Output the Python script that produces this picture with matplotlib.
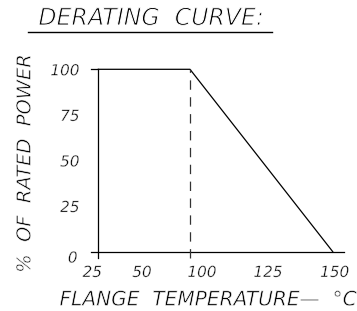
import numpy as np
import matplotlib
matplotlib.use("Agg")
import matplotlib.pyplot as plt
import matplotlib.patheffects as pe
from matplotlib.transforms import ScaledTranslation

# derating curve data
temp = [25, 100, 150]
power = [100, 100, 0]

x_ticks = [25, 50, 100, 125, 150]
y_ticks = [0, 25, 50, 75, 100]

# the drawing's temperature axis is not linear, map it piecewise
knots_t = [20, 25, 50, 100, 125, 150, 155]
knots_px = [90.7, 98.3, 142, 190, 265, 332.7, 344]


def fwd(x):
    return np.interp(x, knots_t, knots_px)


def inv(p):
    return np.interp(p, knots_px, knots_t)


W, H = 357, 311
fig = plt.figure(figsize=(W / 100, H / 100), dpi=100)
ax = fig.add_axes([90.7 / W, (H - 258) / H, (344 - 90.7) / W, (258 - 69.3) / H])
ax.set_xscale("function", functions=(fwd, inv))
ax.set_xlim(20, 155)
ax.set_ylim(-3.5, 100)

for s in ax.spines.values():
    s.set_visible(False)


# thin the glyphs a bit with a white outline, CAD lettering is hairline
def fnt(w):
    return dict(family="DejaVu Sans", style="italic", color="black",
                path_effects=[pe.Stroke(linewidth=w, foreground="white")])


lw = 0.9
ax.plot(temp, power, color="black", lw=lw, clip_on=False)
ax.plot([20, 25], [100, 100], color="black", lw=lw, clip_on=False)
ax.plot([20, 155], [0, 0], color="black", lw=lw, clip_on=False)
ax.plot([25, 25], [-3.5, 100], color="black", lw=lw, clip_on=False)
ax.plot([100, 100], [-3.5, 100], color="#333333", lw=lw, ls=(0, (7.5, 6)), clip_on=False)

ax.set_xticks(x_ticks)
ax.set_xticklabels([str(v) for v in x_ticks], fontsize=11, **fnt(0.3))
ax.set_yticks(y_ticks)
ax.set_yticklabels([str(v) for v in y_ticks], fontsize=11, **fnt(0.3))
ax.tick_params(length=0)
ax.tick_params(axis="x", pad=5)
ax.tick_params(axis="y", pad=8)

x_shift = {25: -6, 100: 12, 125: 3, 150: 2}
for lab, v in zip(ax.get_xticklabels(), x_ticks):
    dx = x_shift.get(v, 0)
    lab.set_transform(lab.get_transform() + ScaledTranslation(dx / 100, 0, fig.dpi_scale_trans))
for lab, v in zip(ax.get_yticklabels(), y_ticks):
    if v == 0:
        lab.set_transform(lab.get_transform() + ScaledTranslation(-2 / 100, -5 / 100, fig.dpi_scale_trans))

fig.text(151 / W, 1 - 18 / H, "DERATING  CURVE:", ha="center", va="center", fontsize=17, **fnt(0.7))
fig.add_artist(plt.Line2D([28 / W, 272 / W], [1 - 32 / H, 1 - 32 / H], color="black", lw=1))

fig.text(25 / W, 1 - 163 / H, "%  OF  RATED  POWER", rotation=90, ha="center", va="center", fontsize=14, **fnt(0.45))
fig.text(208 / W, 1 - 300 / H, "FLANGE  TEMPERATURE\u2014  \u00b0C", ha="center", va="center", fontsize=14.5, **fnt(0.45))

fig.savefig("out.png", dpi=100)
